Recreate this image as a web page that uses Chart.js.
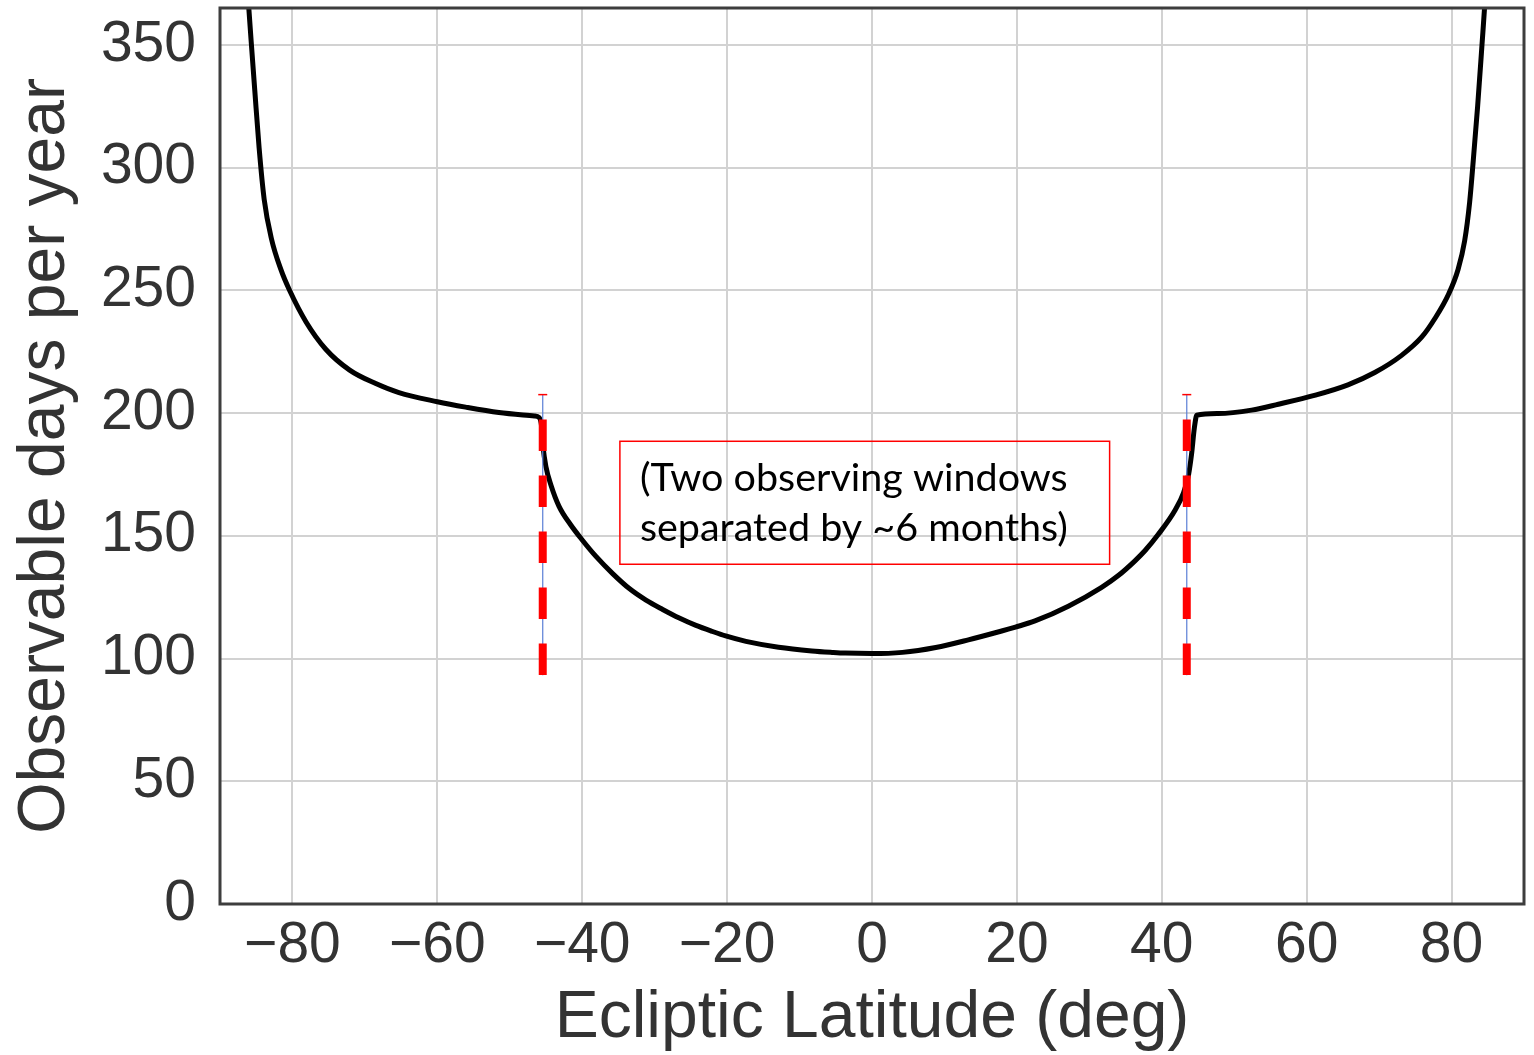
<!DOCTYPE html>
<html>
<head>
<meta charset="utf-8">
<title>Observable days per year</title>
<script src="https://cdn.jsdelivr.net/npm/chart.js@4.4.1/dist/chart.umd.min.js"></script>
<style>
    html, body { margin: 0; padding: 0; background: #fff; }
    #wrap { width: 1534px; height: 1055px; }
</style>
</head>
<body>
<div id="wrap"><canvas id="chart" width="1534" height="1055"></canvas></div>
<script>
// curve: ecliptic latitude (deg) -> observable days per year
const latitude = [
    -86.3, -86.0, -85.7, -85.2, -84.6, -83.9, -82.9, -81.6, -80.4, -78.1,
    -75.4, -72.1, -68.5, -65.3, -60.0, -56.1, -51.5, -46.6, -45.95, -45.6,
    -45.4, -45.0, -44.3, -43.2, -41.6, -40.0, -38.1, -35.8, -33.5, -31.2,
    -28.9, -26.6, -24.3, -22.0, -20.2, -17.4, -12.9, -8.3, -5.5, -3.7,
    0.0, 4.2, 8.8, 13.3, 17.9, 19.8, 22.5, 27.1, 31.7, 34.0,
    36.3, 37.7, 39.5, 41.85, 43.0, 43.7, 44.1, 44.5, 44.83, 47.8,
    52.4, 56.1, 61.2, 65.7, 69.4, 73.1, 75.9, 77.7, 79.6, 80.9,
    81.8, 82.5, 83.0, 83.6, 84.2, 84.6, 84.75
];
const observableDays = [
    377, 364, 351.5, 331.5, 308, 287, 271, 258.5, 250, 237,
    226, 217.5, 212, 208.3, 204.6, 202.4, 200.2, 198.8, 198.2, 194.4,
    186.2, 178, 170.5, 162, 154.5, 148.3, 141.6, 134.6, 128.5, 123.8,
    120.0, 116.5, 113.5, 111.0, 109.2, 107.0, 104.6, 103.1, 102.5, 102.2,
    102.0, 102.5, 104.5, 107.6, 111.2, 112.8, 115.3, 121.3, 129.0, 133.8,
    139.8, 144.0, 150.5, 160.5, 167.5, 175, 183, 194, 199.1, 199.8,
    201.2, 203.6, 207.3, 211.5, 216.5, 223.5, 231, 238.5, 248.5, 258.5,
    270, 286, 303, 325, 350, 367, 375
];

const xTicks = [-80, -60, -40, -20, 0, 20, 40, 60, 80];
const yTicks = [0, 50, 100, 150, 200, 250, 300, 350];

// edges of the two observing windows (red dashed markers)
const windowEdges = [-45.45, 43.45];
const markerTop = [197.4, 197.4];
const markerBottom = [93.2, 93.2];
const capDays = [207.5, 207.5];

const noteLines = ['(Two observing windows', 'separated by ~6 months)'];

const axisFont = "'Liberation Sans', Arial, Helvetica, sans-serif";
const inkColor = '#333333';

function fmtTick(v) {
    return v < 0 ? '\u2212' + Math.abs(v) : String(v);
}

const curvePoints = latitude.map((lat, i) => ({ x: lat, y: observableDays[i] }));

const markerSets = windowEdges.map((lat, i) => ({
    data: [{ x: lat, y: markerTop[i] }, { x: lat, y: markerBottom[i] }],
    borderColor: '#ff0000',
    borderWidth: 8,
    borderDash: [31.7, 24.3],
    borderCapStyle: 'butt',
    pointRadius: 0,
    clip: 0
}));

const whiskerSets = windowEdges.map((lat, i) => ({
    data: [{ x: lat, y: capDays[i] }, { x: lat, y: markerBottom[i] }],
    borderColor: '#5b7fd6',
    borderWidth: 1.2,
    pointStyle: 'line',
    pointRadius: [4.5, 0],
    pointBorderColor: '#ff0000',
    pointBorderWidth: 1.5,
    clip: 0
}));

// frame round the plot area, drawn over the curve
const framePlugin = {
    id: 'frame',
    afterDatasetsDraw(chart) {
        const { ctx, chartArea: a } = chart;
        ctx.save();
        ctx.strokeStyle = '#3d3d3d';
        ctx.lineWidth = 3;
        ctx.strokeRect(a.left, a.top, a.right - a.left, a.bottom - a.top);
        ctx.restore();
    }
};

// red text box in the middle
const notePlugin = {
    id: 'note',
    afterDatasetsDraw(chart) {
        const { ctx, scales } = chart;
        const x0 = scales.x.getPixelForValue(-34.8);
        const x1 = scales.x.getPixelForValue(32.8);
        const y0 = scales.y.getPixelForValue(188.5);
        const y1 = scales.y.getPixelForValue(138.4);
        ctx.save();
        ctx.strokeStyle = '#ff0000';
        ctx.lineWidth = 1.5;
        ctx.strokeRect(x0, y0, x1 - x0, y1 - y0);
        ctx.fillStyle = '#000';
        ctx.font = "39.5px Lato, 'Open Sans', sans-serif";
        ctx.textBaseline = 'alphabetic';
        ctx.textAlign = 'left';
        noteLines.forEach((line, i) => {
            ctx.fillText(line, x0 + 20, y0 + 50 + i * 50);
        });
        ctx.restore();
    }
};

const ctx = document.getElementById('chart');
new Chart(ctx, {
    type: 'line',
    data: {
        datasets: [
            ...markerSets,
            ...whiskerSets,
            {
                data: curvePoints,
                borderColor: '#000000',
                borderWidth: 5,
                pointRadius: 0,
                cubicInterpolationMode: 'monotone',
                clip: 0
            }
        ]
    },
    options: {
        responsive: false,
        animation: false,
        events: [],
        layout: { padding: { top: 8, right: 10, left: 0, bottom: 0 } },
        plugins: {
            legend: { display: false },
            tooltip: { enabled: false }
        },
        scales: {
            x: {
                type: 'linear',
                min: -90,
                max: 90,
                afterBuildTicks: s => { s.ticks = xTicks.map(v => ({ value: v })); },
                afterFit: s => {
                    s.height = 151;
                    s.paddingLeft = 0;
                    s.paddingRight = 0;
                },
                border: { display: false },
                grid: { color: '#d2d2d2', lineWidth: 2, drawTicks: false },
                ticks: {
                    callback: v => fmtTick(v),
                    color: inkColor,
                    padding: 8,
                    maxRotation: 0,
                    font: { family: axisFont, size: 57 }
                },
                title: {
                    display: true,
                    text: 'Ecliptic Latitude (deg)',
                    color: inkColor,
                    padding: { top: 0, bottom: 0 },
                    font: { family: axisFont, size: 66, lineHeight: 1.1 }
                }
            },
            y: {
                type: 'linear',
                min: 0,
                max: 365,
                afterBuildTicks: s => { s.ticks = yTicks.map(v => ({ value: v })); },
                afterFit: s => {
                    s.width = 220;
                    s.paddingTop = 0;
                    s.paddingBottom = 0;
                },
                border: { display: false },
                grid: { color: '#d2d2d2', lineWidth: 2, drawTicks: false },
                ticks: {
                    callback: v => fmtTick(v),
                    color: inkColor,
                    padding: 24,
                    font: { family: axisFont, size: 57 }
                },
                title: {
                    display: true,
                    text: 'Observable days per year',
                    color: inkColor,
                    padding: { top: 9, bottom: 0 },
                    font: { family: axisFont, size: 66, lineHeight: 1.1 }
                }
            }
        }
    },
    plugins: [framePlugin, notePlugin]
});
</script>
</body>
</html>
